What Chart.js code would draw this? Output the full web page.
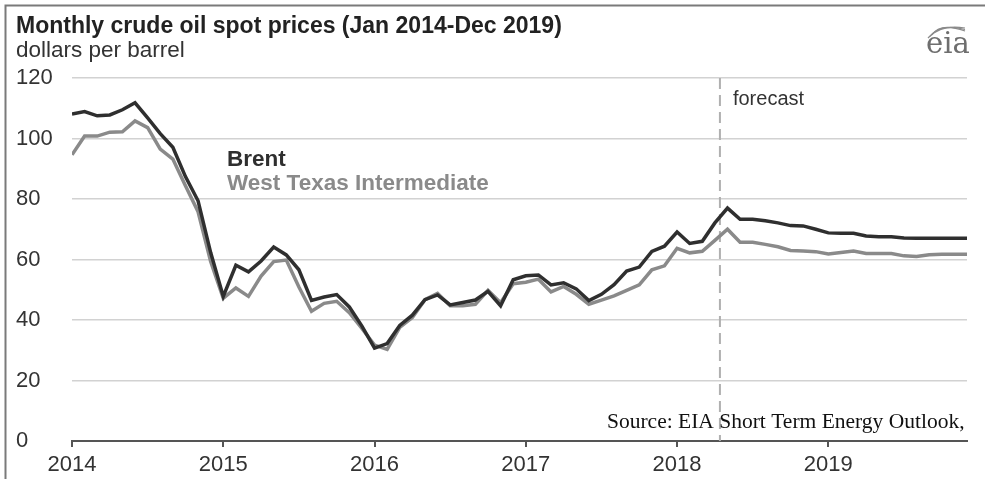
<!DOCTYPE html>
<html>
<head>
<meta charset="utf-8">
<title>Monthly crude oil spot prices</title>
<script src="https://cdn.jsdelivr.net/npm/chart.js@4.4.1/dist/chart.umd.min.js"></script>
<style>
  html, body { margin: 0; padding: 0; background: #fff; }
  #wrap { position: relative; width: 985px; height: 479px; }
</style>
</head>
<body>
<div id="wrap"><canvas id="oilChart" width="985" height="479"></canvas></div>
<script>
// Monthly spot prices, Jan 2014 - Dec 2019 (one value per month)
const yearLabels = ['2014', '2015', '2016', '2017', '2018', '2019'];

const brentPrices = [
    108.1, 108.9, 107.5, 107.8, 109.5, 111.8, 106.8, 101.6, 97.1, 87.4, 79.4, 62.3,
    47.8, 58.1, 55.9, 59.5, 64.1, 61.5, 56.6, 46.5, 47.6, 48.4, 44.3, 38.0,
    30.7, 32.2, 38.2, 41.6, 46.7, 48.3, 45.0, 45.8, 46.6, 49.5, 44.7, 53.3,
    54.6, 54.9, 51.6, 52.3, 50.3, 46.4, 48.5, 51.7, 56.2, 57.5, 62.7, 64.4,
    69.1, 65.3, 66.0, 72.1, 77.0, 73.3, 73.3, 72.8, 72.1, 71.2, 71.1, 70.0,
    68.8, 68.7, 68.7, 67.8, 67.5, 67.5, 67.1, 67.0, 67.0, 67.0, 67.0, 67.0
];

const wtiPrices = [
    94.6, 100.8, 100.8, 102.1, 102.2, 105.8, 103.6, 96.5, 93.2, 84.4, 75.8, 59.3,
    47.2, 50.6, 47.8, 54.5, 59.3, 59.8, 50.9, 42.9, 45.5, 46.2, 42.4, 37.2,
    31.7, 30.3, 37.6, 40.8, 46.7, 48.8, 44.7, 44.7, 45.2, 49.8, 45.7, 52.0,
    52.5, 53.5, 49.3, 51.1, 48.5, 45.2, 46.6, 48.0, 49.8, 51.6, 56.6, 57.9,
    63.7, 62.2, 62.7, 66.3, 70.0, 65.7, 65.7, 65.0, 64.2, 63.0, 62.8, 62.6,
    61.8, 62.3, 62.8, 62.0, 62.0, 62.0, 61.2, 61.0, 61.6, 61.7, 61.7, 61.7
];

const forecastStart = 51.4; // month index (from Jan 2014) where the forecast begins

const seriesNames = ['Brent', 'West Texas Intermediate'];
const seriesColors = ['#2f2f2f', '#8a8a8a'];

const FONT = 'Arial, "Liberation Sans", Helvetica, sans-serif';

function toPoints(values) {
    return values.map((v, i) => ({ x: i, y: v }));
}

// extra drawing: frame, titles, inline legend, forecast marker, source, logo
const decorPlugin = {
    id: 'decor',
    beforeDatasetsDraw(chart) {
        const ctx = chart.ctx;
        const x = chart.scales.x.getPixelForValue(forecastStart);
        const area = chart.chartArea;
        ctx.save();
        ctx.strokeStyle = '#b0b0b0';
        ctx.lineWidth = 2;
        ctx.setLineDash([11, 6]);
        ctx.beginPath();
        ctx.moveTo(x, area.top);
        ctx.lineTo(x, area.bottom);
        ctx.stroke();
        ctx.setLineDash([]);
        ctx.fillStyle = '#333';
        ctx.font = '20px ' + FONT;
        ctx.textBaseline = 'alphabetic';
        ctx.fillText('forecast', x + 13, 105);
        ctx.restore();
    },
    afterDraw(chart) {
        const ctx = chart.ctx;
        ctx.save();

        // frame
        ctx.strokeStyle = '#7a7a7a';
        ctx.lineWidth = 2;
        ctx.beginPath();
        ctx.moveTo(5.5, 479);
        ctx.lineTo(5.5, 5.5);
        ctx.lineTo(985, 5.5);
        ctx.stroke();

        // title + units
        ctx.textBaseline = 'alphabetic';
        ctx.fillStyle = '#222';
        ctx.font = 'bold 23px ' + FONT;
        ctx.fillText('Monthly crude oil spot prices (Jan 2014-Dec 2019)', 16, 33);
        ctx.fillStyle = '#333';
        ctx.font = '22.5px ' + FONT;
        ctx.fillText('dollars per barrel', 16, 57);

        // inline legend
        ctx.font = 'bold 22.5px ' + FONT;
        ctx.fillStyle = seriesColors[0];
        ctx.fillText(seriesNames[0], 227, 166);
        ctx.fillStyle = seriesColors[1];
        ctx.fillText(seriesNames[1], 227, 190);

        // source note
        ctx.fillStyle = '#111';
        ctx.font = '21.5px "Liberation Serif", "Times New Roman", serif';
        ctx.fillText('Source: EIA Short Term Energy Outlook,', 607, 428);

        // eia logo
        ctx.fillStyle = '#6e6e6e';
        ctx.font = '29px "DejaVu Serif", Georgia, serif';
        ctx.fillText('eia', 926, 53);
        ctx.strokeStyle = '#8a8a8a';
        ctx.lineWidth = 1.2;
        for (let k = 0; k < 3; k++) {
            ctx.beginPath();
            ctx.moveTo(928 + k * 2, 38 - k * 1.5);
            ctx.quadraticCurveTo(940, 24 - k, 965, 28 + k * 1.5);
            ctx.stroke();
        }
        ctx.restore();
    }
};

document.addEventListener('DOMContentLoaded', function() {
    const ctx = document.getElementById('oilChart');

    new Chart(ctx, {
        type: 'line',
        data: {
            datasets: [
                {
                    label: seriesNames[0],
                    data: toPoints(brentPrices),
                    borderColor: seriesColors[0],
                    borderWidth: 3.5,
                    pointRadius: 0,
                    tension: 0,
                    fill: false
                },
                {
                    label: seriesNames[1],
                    data: toPoints(wtiPrices),
                    borderColor: seriesColors[1],
                    borderWidth: 3.5,
                    pointRadius: 0,
                    tension: 0,
                    fill: false
                }
            ]
        },
        options: {
            responsive: false,
            devicePixelRatio: 1,
            animation: false,
            layout: {
                padding: { left: 16, right: 18, top: 78, bottom: 0 }
            },
            plugins: {
                legend: { display: false },
                tooltip: { enabled: false },
                title: { display: false }
            },
            scales: {
                x: {
                    type: 'linear',
                    min: 0,
                    max: brentPrices.length - 1,
                    afterFit: function(scale) { scale.height = 38; },
                    grid: {
                        drawOnChartArea: false,
                        drawTicks: true,
                        tickLength: 6,
                        color: '#555',
                        lineWidth: 2
                    },
                    border: { display: true, color: '#555', width: 2 },
                    ticks: {
                        stepSize: 12,
                        includeBounds: false,
                        autoSkip: false,
                        maxRotation: 0,
                        padding: 5,
                        color: '#333',
                        font: { family: FONT, size: 22 },
                        callback: function(value) { return yearLabels[value / 12]; }
                    }
                },
                y: {
                    min: 0,
                    max: 120,
                    afterFit: function(scale) { scale.width = 56; },
                    grid: {
                        drawTicks: false,
                        color: '#d2d2d2',
                        lineWidth: 1.6
                    },
                    border: { display: false },
                    ticks: {
                        stepSize: 20,
                        crossAlign: 'far',
                        padding: 0,
                        color: '#333',
                        font: { family: FONT, size: 22 }
                    }
                }
            }
        },
        plugins: [decorPlugin]
    });
});
</script>
</body>
</html>
